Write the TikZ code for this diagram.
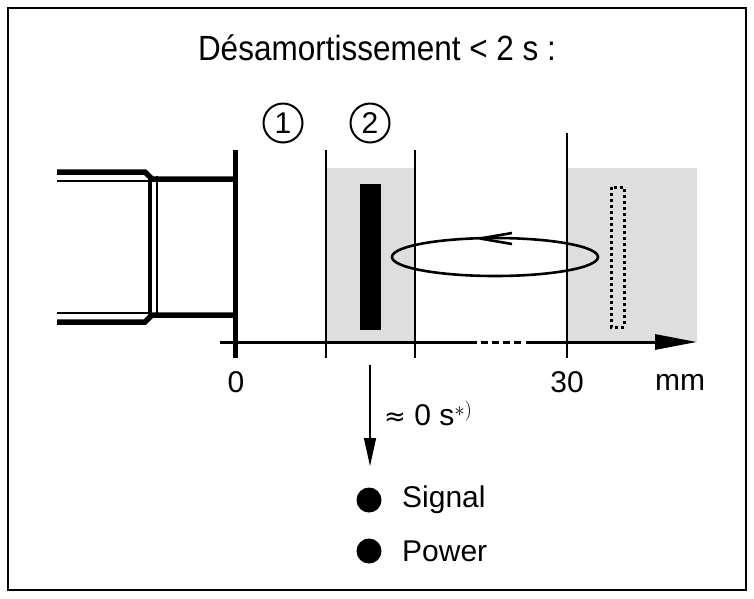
\documentclass[tikz,border=0pt]{standalone}
\usepackage{fontspec}
\setmainfont{Liberation Sans}
\newfontfamily\symf{DejaVu Sans}
\usetikzlibrary{arrows.meta}
\begin{document}
\begin{tikzpicture}[x=1pt,y=-1pt,
  lbl/.style={inner sep=0pt,font=\fontsize{30}{34}\selectfont},
  num/.style={draw,circle,line width=2pt,minimum size=39pt,inner sep=0pt,font=\fontsize{30}{32}\selectfont},
  thin/.style={line width=1.3pt}]
\useasboundingbox (0,0) rectangle (754,598);
\draw[line width=2pt] (8,8) rectangle (746,590);
\node[inner sep=0pt,font=\fontsize{35}{38}\selectfont] (title) at (377,48) {\addfontfeature{FakeStretch=0.9}Désamortissement < 2 s :};
% grey zones
\fill[black!13] (326,168) rectangle (415,342);
\fill[black!13] (567,168) rectangle (697,342);
% sensor
\draw[line width=5.5pt] (57,172) -- (145,172) -- (152,179) -- (235,179);
\draw[line width=2.2pt] (57,181) -- (150,181);
\draw[line width=5.5pt] (57,322) -- (145,322) -- (152,315) -- (235,315);
\draw[line width=2.2pt] (57,313) -- (150,313);
\draw[line width=3.5pt] (150,176) -- (150,318);
\draw[line width=2.2pt] (157,176) -- (157,318);
\draw[line width=5pt] (235,150) -- (235,358);
% zone lines
\draw[thin] (326,150) -- (326,358);
\draw[thin] (415,150) -- (415,358);
\draw[line width=1.8pt] (567,133) -- (567,358);
% target
\fill (360,184) rectangle (381,330);
\draw[line width=3pt,dash pattern=on 3pt off 3pt] (611,187) rectangle (624,327);
% ellipse
\draw[line width=2.6pt] (495,257) ellipse [x radius=103,y radius=19];
\draw[line width=2.6pt] (480,238.5) -- (512,233);
\draw[line width=2.6pt] (480,238.5) -- (512,244);
% axis
\draw[line width=3pt] (220,342) -- (477,342);
\draw[line width=3pt,dash pattern=on 7pt off 4pt] (481,342) -- (522,342);
\coordinate (axs) at (526,342);
\coordinate (axe) at (697,342);
\draw[line width=3pt,-{Triangle[length=42pt,width=15pt]}] (axs) -- (axe);
\node[lbl] (l0) at (236,382) {0};
\node[lbl] (l30) at (567,382) {30};
\node[lbl] (lmm) at (680,382) {mm};
\node[num] (n1) at (283,123) {1};
\node[num] (n2) at (370,123) {2};
% signal arrow
\coordinate (sa) at (370,365);
\coordinate (se) at (370,466);
\draw[thin,-{Triangle[length=28pt,width=12pt]}] (sa) -- (se);
\node[lbl,anchor=west] (t0) at (384,413) {{\symf\fontsize{26}{30}\selectfont ≈} 0 s$^{*)}$};
\fill (369,500) circle (12.5);
\fill (369,551) circle (12.5);
\node[lbl,anchor=west] (sig) at (402,500) {Signal};
\node[lbl,anchor=west] (pow) at (402,551) {Power};
\end{tikzpicture}
\end{document}
